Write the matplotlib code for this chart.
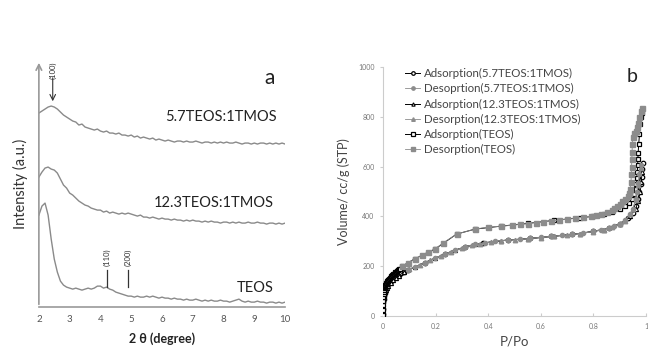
import matplotlib.pyplot as plt
import numpy as np

plt.rcParams['font.family'] = ['Lato', 'DejaVu Sans']

# --- panel a: XRD patterns (intensity in arbitrary units) ---
two_theta = np.round(np.arange(2.0, 10.05, 0.1), 2)
i_57 = [194, 196, 198, 200, 201, 200, 198, 195, 192, 190,
        188, 186, 185, 182, 183, 180, 179, 178, 177, 178,
        176, 175, 176, 174, 174, 173, 174, 172, 172, 171,
        172, 170, 171, 169, 170, 169, 168, 169, 167, 168,
        167, 166, 167, 166, 165, 166, 166, 165, 166, 165,
        165, 166, 165, 164, 165, 165, 164, 165, 164, 165,
        164, 165, 164, 164, 165, 164, 163, 164, 164, 163,
        164, 163, 164, 164, 163, 164, 163, 164, 163, 164, 163]
i_123 = [130, 135, 139, 140, 138, 137, 134, 128, 122, 119,
         114, 112, 109, 106, 104, 102, 101, 99, 98, 97,
         97, 95, 96, 94, 95, 94, 93, 94, 93, 94,
         93, 92, 91, 92, 90, 90, 89, 90, 89, 88,
         89, 88, 88, 87, 88, 87, 87, 86, 87, 86,
         87, 86, 86, 85, 86, 85, 86, 85, 85, 84,
         85, 85, 84, 85, 84, 85, 84, 84, 85, 84,
         84, 85, 84, 84, 83, 84, 84, 83, 84, 83, 84]
i_teos = [92, 101, 104, 92, 68, 48, 35, 26, 22, 20,
          19, 18, 19, 18, 17, 18, 19, 18, 19, 21,
          21, 19, 20, 18, 17, 15, 14, 13, 12, 11,
          11, 10, 11, 10, 10, 11, 10, 11, 10, 9,
          10, 9, 9, 8, 9, 8, 8, 7, 8, 7,
          7, 8, 7, 6, 7, 6, 7, 6, 6, 7,
          6, 6, 5, 6, 7, 8, 6, 5, 6, 5,
          5, 6, 5, 5, 4, 5, 5, 4, 5, 4, 5]

# --- panel b: N2 isotherms ---
p_teos_ads = [0.0003, 0.0006, 0.001, 0.0015, 0.002, 0.003, 0.004, 0.005, 0.006, 0.007,
              0.008, 0.009, 0.01, 0.012, 0.014, 0.016, 0.018, 0.02, 0.023, 0.026,
              0.029, 0.032, 0.035, 0.038, 0.041, 0.044, 0.047, 0.05, 0.053, 0.056,
              0.059, 0.062, 0.065, 0.072, 0.12, 0.198, 0.28, 0.35, 0.45, 0.55,
              0.65, 0.75, 0.8, 0.84, 0.87, 0.9, 0.92, 0.935, 0.945, 0.955,
              0.96, 0.963, 0.965, 0.967, 0.968, 0.969, 0.97, 0.972, 0.975, 0.978,
              0.981, 0.984]
v_teos_ads = [5, 25, 45, 62, 75, 88, 98, 105, 111, 116,
              120, 124, 127, 132, 136, 140, 143, 146, 150, 154,
              158, 161, 164, 167, 170, 173, 176, 178, 181, 183,
              186, 188, 190, 200, 229, 269, 329, 349, 361, 372,
              384, 395, 400, 410, 418, 430, 442, 455, 470, 490,
              510, 530, 555, 580, 605, 630, 655, 690, 730, 770,
              800, 815]
p_teos_des = [0.072, 0.095, 0.12, 0.148, 0.17, 0.198, 0.228, 0.28, 0.35, 0.40, 0.45,
              0.49, 0.52, 0.55, 0.58, 0.61, 0.64, 0.67, 0.7, 0.73, 0.76, 0.79,
              0.81, 0.83, 0.85, 0.87, 0.88, 0.89, 0.9, 0.91, 0.92, 0.93,
              0.935, 0.94, 0.943, 0.944, 0.945, 0.946, 0.947, 0.948, 0.95, 0.955,
              0.96, 0.965, 0.97, 0.975, 0.98, 0.985]
v_teos_des = [200, 213, 229, 245, 257, 269, 293, 329, 349, 357, 361,
              364, 368, 371, 375, 378, 382, 385, 389, 392, 396, 400,
              404, 409, 416, 425, 432, 440, 450, 460, 470, 480,
              492, 510, 540, 570, 600, 630, 660, 690, 720, 735,
              745, 760, 775, 800, 825, 835]
p_57_ads = [0.0005, 0.001, 0.002, 0.003, 0.004, 0.006, 0.008, 0.01, 0.013, 0.016,
            0.02, 0.025, 0.03, 0.035, 0.04, 0.045, 0.05, 0.055, 0.06, 0.07,
            0.08, 0.095, 0.16, 0.236, 0.31, 0.38, 0.475, 0.56, 0.64, 0.72,
            0.8, 0.86, 0.9, 0.93, 0.95, 0.96, 0.97, 0.975, 0.98, 0.983,
            0.986, 0.988]
v_57_ads = [10, 30, 55, 70, 80, 92, 101, 108, 116, 122,
            128, 135, 141, 146, 151, 155, 159, 163, 166, 172,
            178, 185, 213, 249, 277, 293, 305, 312, 320, 328,
            340, 354, 371, 392, 415, 440, 470, 500, 530, 560,
            590, 615]
p_57_des = [0.095, 0.12, 0.16, 0.198, 0.236, 0.274, 0.31, 0.35, 0.388, 0.426, 0.475,
            0.52, 0.56, 0.6, 0.64, 0.68, 0.72, 0.76, 0.8, 0.83, 0.86, 0.88,
            0.9, 0.92, 0.94, 0.95, 0.96, 0.965, 0.97, 0.975, 0.98]
v_57_des = [185, 197, 213, 233, 249, 265, 277, 289, 293, 301, 305,
            308, 312, 316, 320, 324, 328, 333, 340, 346, 354, 361,
            371, 386, 410, 430, 470, 500, 535, 570, 605]
p_123_ads = [0.001, 0.003, 0.005, 0.01, 0.015, 0.02, 0.03, 0.04, 0.05, 0.06,
             0.08, 0.12, 0.198, 0.274, 0.35, 0.45, 0.55, 0.65, 0.75, 0.84,
             0.9, 0.94, 0.96, 0.97, 0.978, 0.982, 0.985]
v_123_ads = [40, 72, 85, 104, 114, 122, 134, 145, 154, 162,
             176, 197, 233, 265, 289, 303, 310, 320, 331, 347,
             369, 400, 430, 460, 500, 540, 580]
p_123_des = [0.1, 0.14, 0.18, 0.22, 0.26, 0.3, 0.34, 0.37, 0.41, 0.45, 0.5,
             0.55, 0.6, 0.65, 0.7, 0.75, 0.8, 0.84, 0.87, 0.9, 0.92, 0.94,
             0.95, 0.96, 0.97, 0.98]
v_123_des = [188, 205, 223, 242, 258, 272, 285, 290, 297, 303, 306,
             310, 315, 320, 325, 331, 339, 347, 356, 369, 383, 408,
             428, 465, 525, 595]

fig = plt.figure(figsize=(6.48, 3.51), dpi=100)

# ---------------- panel a ----------------
ax1 = fig.add_axes([0.060, 0.125, 0.380, 0.704])
curve_col = '#8a8a8a'
for yy in (i_57, i_123, i_teos):
    ax1.plot(two_theta, yy, color=curve_col, lw=1.0)
ax1.set_xlim(2, 10)
ax1.set_ylim(0, 247)
for s in ('top', 'right', 'left'):
    ax1.spines[s].set_visible(False)
ax1.spines['bottom'].set_color('#999999')
ax1.spines['bottom'].set_linewidth(1.2)
ax1.annotate('', xy=(0, 1.0), xytext=(0, 0), xycoords='axes fraction',
             arrowprops=dict(arrowstyle='->', color='#999999', lw=1.2))
ax1.set_yticks([])
ax1.set_xticks(range(2, 11))
ax1.tick_params(axis='x', length=0, labelsize=7, labelcolor='#555555', pad=6)
ax1.set_ylabel('Intensity (a.u.)', fontsize=10.5, color='#333333', labelpad=8)
ax1.set_xlabel('2 θ (degree)', fontsize=9, fontweight='bold', color='#222222', labelpad=6)

ax1.text(9.74, 190, '5.7TEOS:1TMOS', ha='right', va='center', fontsize=10.5, color='#222222')
ax1.text(9.62, 104, '12.3TEOS:1TMOS', ha='right', va='center', fontsize=10.5, color='#222222')
ax1.text(9.64, 19, 'TEOS', ha='right', va='center', fontsize=10.5, color='#222222')
ax1.text(9.5, 229, 'a', ha='center', va='center', fontsize=15, color='#222222')

ax1.text(2.45, 237, '(100)', rotation=90, ha='center', va='center', fontsize=5.5, color='#333333')
ax1.annotate('', xy=(2.45, 203), xytext=(2.45, 232),
             arrowprops=dict(arrowstyle='->', color='#333333', lw=0.8))
for xp, lab in ((4.2, '(110)'), (4.9, '(200)')):
    ax1.text(xp, 50, lab, rotation=90, ha='center', va='center', fontsize=5.5, color='#333333')
    ax1.plot([xp, xp], [20, 37], color='#333333', lw=0.9)

# ---------------- panel b ----------------
ax2 = fig.add_axes([0.591, 0.0997, 0.406, 0.7094])
gray = '#8c8c8c'
ax2.plot(p_57_ads, v_57_ads, '-o', color='black', mfc='white', ms=3.2, mew=0.9, lw=0.7,
         label='Adsorption(5.7TEOS:1TMOS)', zorder=3)
ax2.plot(p_57_des, v_57_des, '-o', color=gray, ms=3, lw=0.6,
         label='Desoprtion(5.7TEOS:1TMOS)', zorder=4)
ax2.plot(p_123_ads, v_123_ads, '-^', color='black', mfc='white', ms=3, mew=0.8, lw=0.7,
         label='Adsorption(12.3TEOS:1TMOS)', zorder=3)
ax2.plot(p_123_des, v_123_des, '-^', color=gray, ms=3.2, lw=0.6,
         label='Desorption(12.3TEOS:1TMOS)', zorder=4)
ax2.plot(p_teos_ads, v_teos_ads, '-s', color='black', mfc='white', ms=3.5, mew=0.9, lw=0.7,
         label='Adsorption(TEOS)', zorder=3)
ax2.plot(p_teos_des, v_teos_des, '-s', color=gray, ms=3.6, lw=0.6,
         label='Desorption(TEOS)', zorder=4)
ax2.set_xlim(0, 1)
ax2.set_ylim(0, 1000)
ax2.set_xticks([0, 0.2, 0.4, 0.6, 0.8, 1])
ax2.set_xticklabels(['0', '0.2', '0.4', '0.6', '0.8', '1'])
ax2.set_yticks([0, 200, 400, 600, 800, 1000])
for s in ('top', 'right'):
    ax2.spines[s].set_visible(False)
for s in ('left', 'bottom'):
    ax2.spines[s].set_color('#cccccc')
    ax2.spines[s].set_linewidth(0.8)
ax2.tick_params(axis='y', length=2, color='#cccccc', labelsize=5, labelcolor='#777777', pad=4)
ax2.tick_params(axis='x', direction='in', length=2, color='#cccccc', labelsize=5,
                labelcolor='#777777', pad=5)
ax2.set_ylabel('Volume/ cc/g (STP)', fontsize=9, color='#444444', labelpad=6)
ax2.set_xlabel('P/Po', fontsize=9.5, color='#444444', labelpad=4)
ax2.text(0.947, 960, 'b', ha='center', va='center', fontsize=14, color='#222222')
ax2.legend(loc='upper left', bbox_to_anchor=(0.085, 0.995), frameon=False, fontsize=8.3,
           handlelength=1.3, handletextpad=0.3, labelspacing=0.36, borderpad=0,
           borderaxespad=0, labelcolor='#444444', markerscale=0.8)

fig.savefig('out.png', dpi=100)
